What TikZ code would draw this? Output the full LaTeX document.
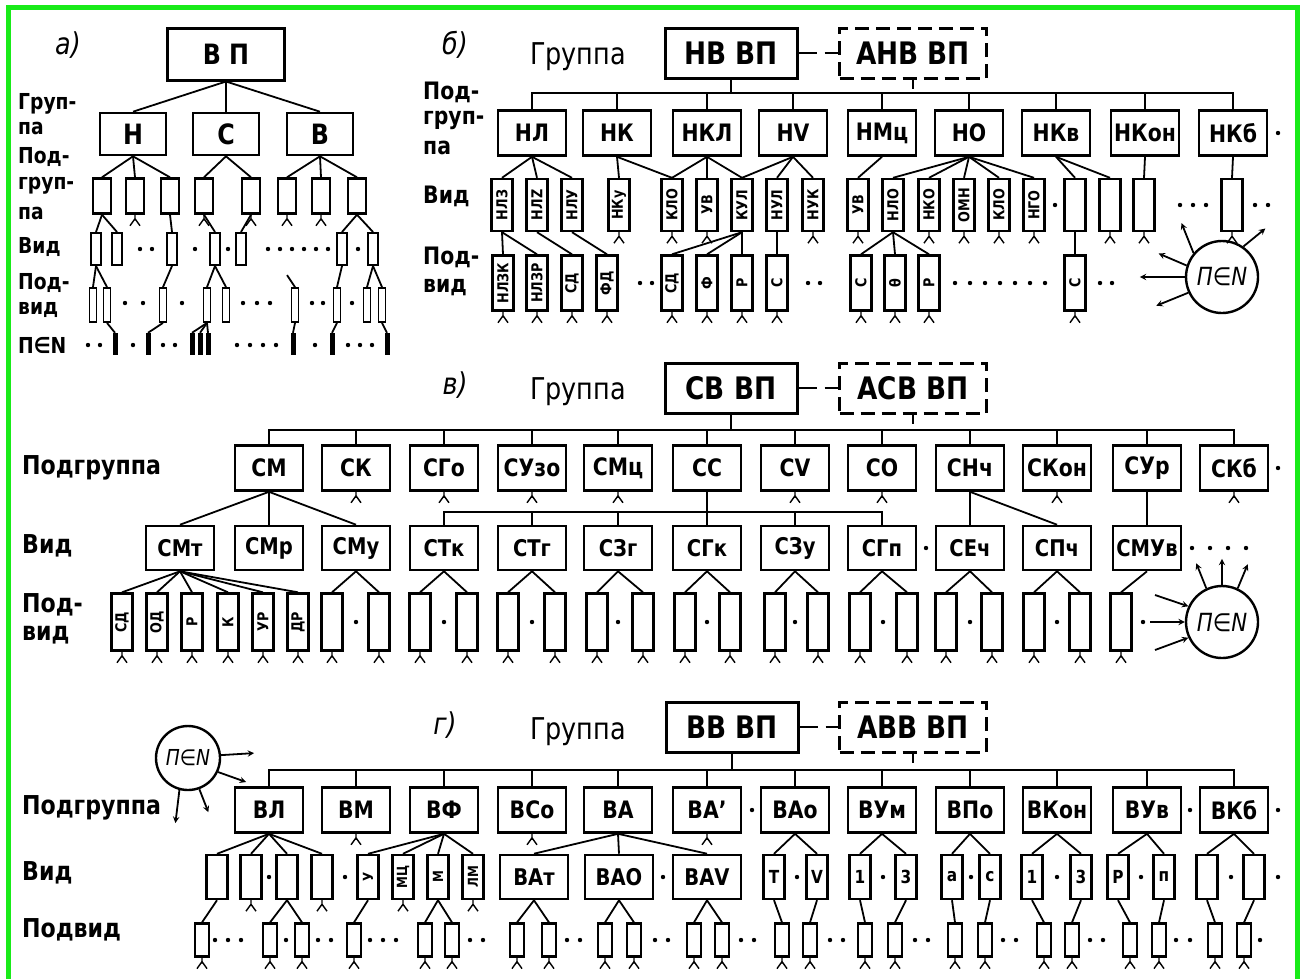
\documentclass[tikz,border=0pt]{standalone}
\usepackage{fontspec}
\setmainfont{DejaVu Sans}[FakeStretch=0.85]
\usetikzlibrary{arrows, positioning, calc}
\definecolor{frame}{RGB}{25,235,25}

\newcommand{\fsz}[1]{\fontsize{#1}{#1}\selectfont}
\newcommand{\vlab}[1]{\rotatebox{90}{#1}}
\newcommand{\links}[2]{\foreach \ch in {#2} {\draw[ln] (#1.south) -- (\ch.north);}}
\newcommand{\stubs}[1]{\foreach \ch in {#1} {\pic at (\ch.south) {fork};}}
\newcommand{\dotrow}[2]{\foreach \xx in {#2} {\fill (\xx,#1) circle (2.2pt);}}

\tikzset{fork/.pic={\draw[line width=1.4pt] (0,0) -- (0,6) (-5,11) -- (0,4) -- (5,11);}}

\begin{document}
\begin{tikzpicture}[
    x=1pt, y=-1pt,
    ln/.style={line width=1.8pt},
    arr/.style={line width=1.8pt, ->, >=stealth},
    ptag/.style={font=\fsz{30}\itshape},
    glbl/.style={font=\fsz{30}},
    albl/.style={anchor=west, inner sep=0pt, font=\fsz{22}\bfseries},
    grp/.style={rectangle, draw=black, line width=3pt, minimum width=132pt, minimum height=50pt, inner sep=2pt, font=\fsz{31}\bfseries},
    agrp/.style={grp, dash pattern=on 14pt off 7pt, minimum width=147pt},
    sub/.style={rectangle, draw=black, line width=2.6pt, minimum width=68pt, minimum height=45pt, inner sep=1pt, font=\fsz{24}\bfseries},
    vid/.style={sub, minimum height=44pt, font=\fsz{23}\bfseries},
    tall/.style={rectangle, draw=black, line width=2.4pt, minimum width=21pt, minimum height=52pt, inner sep=0pt, font=\fsz{15}\bfseries},
    chip/.style={rectangle, draw=black, line width=2.4pt, minimum width=21pt, minimum height=44pt, inner sep=0pt, font=\fsz{18}\bfseries},
    gpod/.style={rectangle, draw=black, line width=2.2pt, minimum width=14pt, minimum height=33pt, inner sep=0pt},
    pen/.style={circle, draw=black, line width=2.4pt, minimum size=72pt, inner sep=0pt, font=\fsz{25}\itshape},
    abox/.style={sub, minimum width=66pt, minimum height=42pt, font=\fsz{28}\bfseries},
    asub/.style={rectangle, draw=black, line width=2.4pt, minimum width=18pt, minimum height=35pt, inner sep=0pt},
    avid/.style={rectangle, draw=black, line width=2pt, minimum width=10pt, minimum height=32pt, inner sep=0pt},
    apod/.style={rectangle, draw=black, line width=1.8pt, minimum width=7pt, minimum height=34pt, inner sep=0pt},
    abar/.style={rectangle, fill=black, minimum width=5pt, minimum height=22pt, inner sep=0pt}
]
\useasboundingbox (0,0) rectangle (1300,978);
\draw[frame, line width=5pt] (8,985) -- (8,7) -- (1297,7) -- (1297,985);

% a)
\node[ptag] (la) at (68,45) {а)};
\foreach \txt/\yy [count=\i] in {Груп-/104, па/128, Под-/157, груп-/186, па/213, Вид/247, Под-/283, вид/310, П∈N/345}
    \node[albl] (la\i) at (18,\yy) {\txt};
\node[grp, minimum width=117pt, minimum height=52pt, font=\fsz{28}\bfseries] (avp) at (226,54) {В П};
\foreach \txt/\xx [count=\i] in {Н/133, С/226, В/320}
    \node[abox] (ag\i) at (\xx,134) {\txt};
\links{avp}{ag1,ag2,ag3}
\foreach \xx [count=\i] in {102,135,170,204,251,287,321,357}
    \node[asub] (as\i) at (\xx,196) {};
\links{ag1}{as1,as2,as3}
\links{ag2}{as4,as5}
\links{ag3}{as6,as7,as8}
\foreach \xx [count=\i] in {96,117,172,215,241,342,373}
    \node[avid] (av\i) at (\xx,249) {};
\links{as1}{av1,av2}
\links{as3}{av3}
\links{as4}{av4}
\links{as5}{av5}
\links{as8}{av6,av7}
\foreach \xx [count=\i] in {93,107,163,207,226,295,337,367,382}
    \node[apod] (ap\i) at (\xx,305) {};
\links{av1}{ap1,ap2}
\links{av3}{ap3}
\links{av4}{ap4,ap5}
\links{av6}{ap7}
\links{av7}{ap8,ap9}
\draw[ln] (ap6.north) -- ++(-8,-12);
\foreach \xx [count=\i] in {115,148,192,200,208,293,332,387}
    \node[abar] (ab\i) at (\xx,344) {};
\links{ap2}{ab1}
\links{ap3}{ab2}
\links{ap4}{ab3,ab4,ab5}
\links{ap6}{ab6}
\links{ap7}{ab7}
\links{ap9}{ab8}
\stubs{as2,as4,as5,as6,as7}
\dotrow{249}{140,152,195,228,268,280,292,304,316,328,358}
\dotrow{303}{125,143,182,243,257,270,312,323,352}
\dotrow{345}{88,100,133,163,175,237,250,263,276,315,348,360,372}

% b)
\node[ptag] (lb) at (455,45) {б)};
\node[glbl] (gb) at (578,57) {Группа};
\node[grp] (hv) at (731,53) {НВ ВП};
\node[agrp] (ahv) at (913,53) {АНВ ВП};
\draw[ln, dash pattern=on 18pt off 8pt] (hv) -- (ahv);
\draw[ln] (ahv.south) -- ++(0,9);
\foreach \txt/\yy [count=\i] in {Под-/92, груп-/120, па/148, Вид/196, Под-/257, вид/288}
    \node[albl, font=\fsz{24}\bfseries] (lb\i) at (423,\yy) {\txt};
\foreach \txt/\xx [count=\i] in {НЛ/532, НК/617, НКЛ/707, НV/793, НМц/882, НО/969, НКв/1056, НКон/1145, НКб/1233}
    \node[sub] (bs\i) at (\xx,133) {\txt};
\coordinate (bbus) at (731,93);
\draw[ln] (hv.south) -- (bbus);
\draw[ln] (bs1.north) |- (bbus) -| (bs9.north);
\foreach \i in {2,...,8}
    \draw[ln] (bs\i.north) -- (bs\i.north |- bbus);
\foreach \txt/\xx [count=\i] in {НЛЗ/502, НЛZ/537, НЛУ/572, НКу/619, КЛО/672, УВ/707, КУЛ/742, НУЛ/777, НУК/813, УВ/858, НЛО/893, НКО/929, ОМН/964, КЛО/999, НГО/1034, /1075, /1110, /1144, /1232}
    \node[tall] (bv\i) at (\xx,205) {\vlab{\txt}};
\links{bs1}{bv1,bv2,bv3}
\links{bs2}{bv4,bv5}
\links{bs3}{bv5,bv6,bv7}
\links{bs4}{bv7,bv8,bv9}
\links{bs5}{bv10}
\links{bs6}{bv11,bv12,bv13,bv14,bv15}
\links{bs7}{bv16,bv17}
\links{bs8}{bv18}
\links{bs9}{bv19}
\foreach \txt/\xx [count=\i] in {НЛЗК/503, НЛЗР/537, СД/572, ФД/607, СД/672, Ф/707, Р/742, С/777, С/861, θ/895, Р/929, С/1075}
    \node[tall, minimum height=55pt] (bp\i) at (\xx,283) {\vlab{\txt}};
\links{bv1}{bp1,bp2}
\links{bv2}{bp3}
\links{bv3}{bp4}
\links{bv7}{bp5,bp6,bp7}
\links{bv8}{bp8}
\links{bv11}{bp9,bp10,bp11}
\links{bv16}{bp12}
\node[pen] (bpn) at (1222,277) {П∈N};
\draw[arr] (bpn.140) -- ++(-12,-30);
\draw[arr] (bpn.162) -- ++(-28,-12);
\draw[arr] (bpn.180) -- ++(-45,0);
\draw[arr] (bpn.205) -- ++(-32,13);
\draw[arr] (bpn.55) -- ++(22,-18);
\stubs{bv4,bv5,bv6,bv9,bv10,bv12,bv13,bv14,bv15,bv17,bv18,bv19}
\stubs{bp1,bp2,bp3,bp4,bp5,bp6,bp7,bp8,bp9,bp10,bp11,bp12}
\dotrow{133}{1278}
\dotrow{205}{1055,1180,1193,1206,1255,1268}
\dotrow{283}{640,652,808,820,955,970,985,1000,1015,1030,1045,1100,1112}

% v)
\node[ptag] (lv) at (455,385) {в)};
\node[glbl] (gv) at (578,392) {Группа};
\node[grp] (cv) at (731,388) {СВ ВП};
\node[agrp] (acv) at (913,388) {АСВ ВП};
\draw[ln, dash pattern=on 18pt off 8pt] (cv) -- (acv);
\draw[ln] (acv.south) -- ++(0,9);
\foreach \txt/\yy [count=\i] in {Подгруппа/468, Вид/546, Под-/605, вид/635}
    \node[albl, font=\fsz{26}\bfseries] (lv\i) at (22,\yy) {\txt};
\foreach \txt/\xx [count=\i] in {СМ/269, СК/356, СГо/444, СУзо/532, СМц/618, СС/707, СV/795, СО/882, СНч/970, СКон/1057, СУр/1147, СКб/1234}
    \node[sub] (vs\i) at (\xx,468) {\txt};
\coordinate (vbus) at (731,430);
\draw[ln] (cv.south) -- (vbus);
\draw[ln] (vs1.north) |- (vbus) -| (vs12.north);
\foreach \i in {2,...,11}
    \draw[ln] (vs\i.north) -- (vs\i.north |- vbus);
\foreach \txt/\xx [count=\i] in {СМт/180, СМр/269, СМу/356, СТк/444, СТг/532, СЗг/618, СГк/707, СЗу/795, СГп/882, СЕч/970, СПч/1057, СМУв/1147}
    \node[vid] (vv\i) at (\xx,548) {\txt};
\links{vs1}{vv1,vv2,vv3}
\coordinate (vbus2) at (707,512);
\draw[ln] (vs6.south) -- (vv7.north);
\draw[ln] (vv4.north) |- (vbus2) -| (vv9.north);
\foreach \i in {5,6,8}
    \draw[ln] (vv\i.north) -- (vv\i.north |- vbus2);
\links{vs9}{vv10,vv11}
\links{vs11}{vv12}
\foreach \txt/\xx [count=\i] in {СД/122, ОД/157, Р/192, К/228, УР/263, ДР/298}
    \node[tall, minimum height=57pt] (vp\i) at (\xx,622) {\vlab{\txt}};
\foreach \xx [count=\i from 7] in {332,379,420,467,508,555,597,643,685,730,775,818,860,907,946,992,1034,1080,1121}
    \node[tall, minimum height=57pt] (vp\i) at (\xx,622) {};
\links{vv1}{vp1,vp2,vp3,vp4,vp5,vp6}
\foreach \k in {3,...,11} {
    \pgfmathtruncatemacro\pa{2*\k+1}
    \pgfmathtruncatemacro\pb{2*\k+2}
    \links{vv\k}{vp\pa,vp\pb}
}
\links{vv12}{vp25}
\node[pen] (vpn) at (1222,622) {П∈N};
\draw[arr] (vpn.115) -- ++(-10,-25);
\draw[arr] (vpn.90) -- ++(0,-26);
\draw[arr] (vpn.65) -- ++(10,-24);
\draw[arr] (1155,595) -- (vpn.155);
\draw[arr] (1150,622) -- (vpn.180);
\draw[arr] (1155,650) -- (vpn.205);
\stubs{vs2,vs3,vs4,vs5,vs7,vs8,vs10,vs12}
\foreach \i in {1,...,25} {\stubs{vp\i}}
\dotrow{468}{1278}
\dotrow{548}{926,1192,1210,1228,1246}
\dotrow{622}{356,444,532,618,707,795,883,970,1057,1143}

% g)
\node[ptag] (lg) at (445,725) {г)};
\node[glbl] (gg) at (578,732) {Группа};
\node[grp] (bb) at (732,727) {ВВ ВП};
\node[agrp] (abb) at (913,727) {АВВ ВП};
\draw[ln, dash pattern=on 18pt off 8pt] (bb) -- (abb);
\draw[ln] (abb.south) -- ++(0,9);
\foreach \txt/\yy [count=\i] in {Подгруппа/808, Вид/873, Подвид/930}
    \node[albl, font=\fsz{26}\bfseries] (lg\i) at (22,\yy) {\txt};
\node[pen, minimum size=64pt, font=\fsz{22}\itshape] (gpn) at (188,758) {П∈N};
\draw[arr] (gpn.5) -- ++(33,-2);
\draw[arr] (gpn.-25) -- ++(28,10);
\draw[arr] (gpn.-105) -- ++(-4,33);
\draw[arr] (gpn.-70) -- ++(9,23);
\foreach \txt/\xx [count=\i] in {ВЛ/269, ВМ/356, ВФ/444, ВСо/532, ВА/618, ВА'/707, ВАо/795, ВУм/882, ВПо/970, ВКон/1057, ВУв/1147, ВКб/1234}
    \node[sub] (gs\i) at (\xx,810) {\txt};
\coordinate (gbus) at (732,770);
\draw[ln] (bb.south) -- (gbus);
\draw[ln] (gs1.north) |- (gbus) -| (gs12.north);
\foreach \i in {2,...,11}
    \draw[ln] (gs\i.north) -- (gs\i.north |- gbus);
\foreach \txt/\xx [count=\i] in {/217, /251, /287, /322, \vlab{У}/368, \vlab{МЦ}/403, \vlab{М}/438, \vlab{ЛМ}/473}
    \node[chip, font=\fsz{14}\bfseries] (gv\i) at (\xx,877) {\txt};
\foreach \txt/\xx [count=\i] in {ВАт/534, ВАО/619, ВАV/707}
    \node[vid] (ga\i) at (\xx,877) {\txt};
\foreach \txt/\xx [count=\i] in {Т/774, V/817, 1/860, 3/906, а/952, с/990, 1/1032, 3/1081, Р/1118, п/1164, /1207, /1254}
    \node[chip] (gw\i) at (\xx,877) {\txt};
\links{gs1}{gv1,gv2,gv3,gv4}
\links{gs3}{gv5,gv6,gv7,gv8}
\links{gs5}{ga1,ga2,ga3}
\foreach \k in {1,...,6} {
    \pgfmathtruncatemacro\pp{\k+6}
    \pgfmathtruncatemacro\pa{2*\k-1}
    \pgfmathtruncatemacro\pb{2*\k}
    \links{gs\pp}{gw\pa,gw\pb}
}
\foreach \xx [count=\i] in {202,270,302,354,425,452,517,549,605,634,694,722,782,810,865,895,955,985,1044,1072,1130,1159,1215,1244}
    \node[gpod] (gp\i) at (\xx,940) {};
\links{gv1}{gp1}
\links{gv3}{gp2,gp3}
\links{gv5}{gp4}
\links{gv7}{gp5,gp6}
\links{ga1}{gp7,gp8}
\links{ga2}{gp9,gp10}
\links{ga3}{gp11,gp12}
\foreach \k in {1,...,12} {
    \pgfmathtruncatemacro\pa{\k+12}
    \links{gw\k}{gp\pa}
}
\stubs{gs2,gs4,gs6,gv2,gv4,gv6,gv8}
\foreach \i in {1,...,24} {\stubs{gp\i}}
\dotrow{810}{752,1190,1278}
\dotrow{877}{269,345,663,797,883,971,1057,1141,1231,1278}
\dotrow{940}{215,228,241,286,318,331,370,383,396,470,483,567,580,655,668,741,754,830,843,915,928,1003,1016,1090,1103,1176,1190,1260}
\end{tikzpicture}
\end{document}
